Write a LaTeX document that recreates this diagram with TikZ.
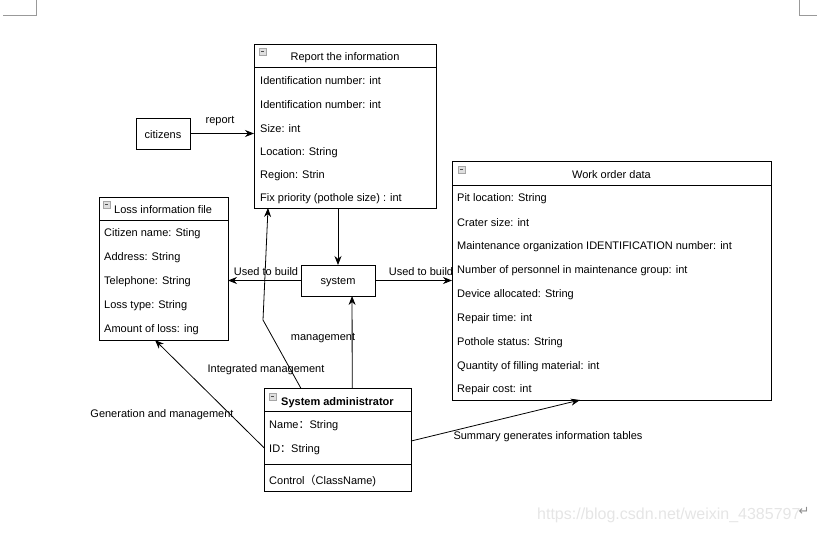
\documentclass[tikz,border=0pt]{standalone}
\usepackage{fontspec}
\setmainfont{Liberation Sans}
\newfontfamily\symfont{DejaVu Sans}
\newfontfamily\cjk{Noto Sans CJK SC}
\usetikzlibrary{arrows.meta,calc}
\begin{document}
\begin{tikzpicture}[x=1pt,y=-1pt,
  box/.style={draw=black,line width=0.8pt,inner sep=0pt,outer sep=0pt,fill=white},
  row/.style={anchor=west,inner sep=0pt,yshift=-1.5pt,font=\fontsize{11}{13}\selectfont},
  lbl/.style={inner sep=0pt,yshift=-1.5pt,font=\fontsize{11}{13}\selectfont},
  arr/.style={draw=black,line width=0.8pt,-{Stealth[length=9pt,width=7pt]}},
  link/.style={draw=black,line width=0.8pt},
  icon/.style={draw=gray!70,fill=gray!25,line width=0.5pt,minimum size=6.5pt,inner sep=0pt,
    path picture={\draw[black!70,line width=0.7pt] ([xshift=1.5pt]path picture bounding box.west) -- ([xshift=-1.5pt]path picture bounding box.east);}},
  corner/.style={draw=gray!80,line width=0.6pt}]
\useasboundingbox (0,0) rectangle (817,533);
% corner marks
\draw[corner] (36,0) -- (36,15) -- (3,15);
\draw[corner] (799,0) -- (799,15) -- (817,15);
% boxes
\node[box,minimum width=182pt,minimum height=164pt] (report) at (345,126) {};
\node[box,minimum width=129pt,minimum height=143pt] (loss) at (163.5,268.5) {};
\node[box,minimum width=319pt,minimum height=239pt] (work) at (611.5,280.5) {};
\node[box,minimum width=74pt,minimum height=31pt] (sys) at (338,280.5) {};
\node[box,minimum width=54pt,minimum height=31pt] (cit) at (163,133.5) {};
\node[box,minimum width=147pt,minimum height=103pt] (admin) at (337.5,439.5) {};
% dividers
\draw[link] ($(report.north west)+(0,23)$) -- ($(report.north east)+(0,23)$);
\draw[link] ($(loss.north west)+(0,23)$) -- ($(loss.north east)+(0,23)$);
\draw[link] ($(work.north west)+(0,24)$) -- ($(work.north east)+(0,24)$);
\draw[link] ($(admin.north west)+(0,23)$) -- ($(admin.north east)+(0,23)$);
\draw[link] ($(admin.north west)+(0,76)$) -- ($(admin.north east)+(0,76)$);
% icons
\node[icon] (ic1) at (262.5,51.5) {};
\node[icon] (ic2) at (106.5,204.5) {};
\node[icon] (ic3) at (461.5,169.5) {};
\node[icon] (ic4) at (272.5,396.5) {};
% texts
\node[lbl] (cittxt) at (163,133.5) {citizens};
\node[lbl] (systxt) at (338,281) {system};
\node[lbl] (rt) at (345,56) {Report the information};
\node[row] (r1) at (260,79) {Identification number: int};
\node[row] (r2) at (260,103) {Identification number: int};
\node[row] (r3) at (260,127) {Size: int};
\node[row] (r4) at (260,151) {Location: String};
\node[row] (r5) at (260,174) {Region: Strin};
\node[row] (r6) at (260,197) {Fix priority (pothole size) : int};
\node[row] (lt) at (114,208) {Loss information file};
\node[row] (l1) at (104,232) {Citizen name: Sting};
\node[row] (l2) at (104,256) {Address: String};
\node[row] (l3) at (104,280) {Telephone: String};
\node[row] (l4) at (104,304) {Loss type: String};
\node[row] (l5) at (104,328) {Amount of loss: ing};
\node[lbl] (wt) at (611.5,173) {Work order data};
\node[row] (w1) at (457,197) {Pit location: String};
\node[row] (w2) at (457,221) {Crater size: int};
\node[row] (w3) at (457,245) {Maintenance organization IDENTIFICATION number: int};
\node[row] (w4) at (457,269) {Number of personnel in maintenance group: int};
\node[row] (w5) at (457,293) {Device allocated: String};
\node[row] (w6) at (457,317) {Repair time: int};
\node[row] (w7) at (457,341) {Pothole status: String};
\node[row] (w8) at (457,365) {Quantity of filling material: int};
\node[row] (w9) at (457,388) {Repair cost: int};
\node[row,font=\fontsize{11}{13}\selectfont\bfseries] (at) at (281,401.5) {System administrator};
\node[row] (a1) at (269,424) {Name{\cjk ：}String};
\node[row] (a2) at (269,448) {ID{\cjk ：}String};
\node[row] (a3) at (269,479.5) {Control{\cjk （}ClassName)};
% connectors
\draw[arr] (cit.east) -- (cit.east -| report.west);
\draw[arr] (report.south -| sys.north) -- (sys.north);
\draw[arr] (sys.west) -- (sys.west -| loss.east);
\draw[arr] (sys.east) -- (sys.east -| work.west);
\draw[arr] ($(admin.north west)!0.6!(admin.north east)$) -- ($(sys.south west)!0.69!(sys.south east)$);
\draw[arr] ($(admin.north west)!0.25!(admin.north east)$) -- (263,320) -- ($(report.south west)!0.077!(report.south east)$);
\draw[arr] ($(admin.north west)!0.58!(admin.south west)$) -- ($(loss.south west)!0.434!(loss.south east)$);
\draw[arr] ($(admin.north east)!0.515!(admin.south east)$) -- ($(work.south west)!0.401!(work.south east)$);
% connector labels
\node[lbl] (lb1) at (220,120) {report};
\node[lbl] (lb2) at (266,270.5) {Used to build};
\node[lbl] (lb3) at (421,270.5) {Used to build};
\node[lbl] (lb4) at (323,337) {management};
\node[lbl] (lb5) at (266,368) {Integrated management};
\node[lbl] (lb6) at (162,413.5) {Generation and management};
\node[lbl] (lb7) at (548,435.5) {Summary generates information tables};
% watermark
\node[anchor=west,inner sep=0pt,text=gray!20,font=\fontsize{16}{18}\selectfont] (wm) at (537,515) {https://blog.csdn.net/weixin\_4385797};
\node[inner sep=0pt,text=gray!90,font=\symfont\fontsize{13}{15}\selectfont] (ret) at (804,511) {↵};
\end{tikzpicture}
\end{document}
